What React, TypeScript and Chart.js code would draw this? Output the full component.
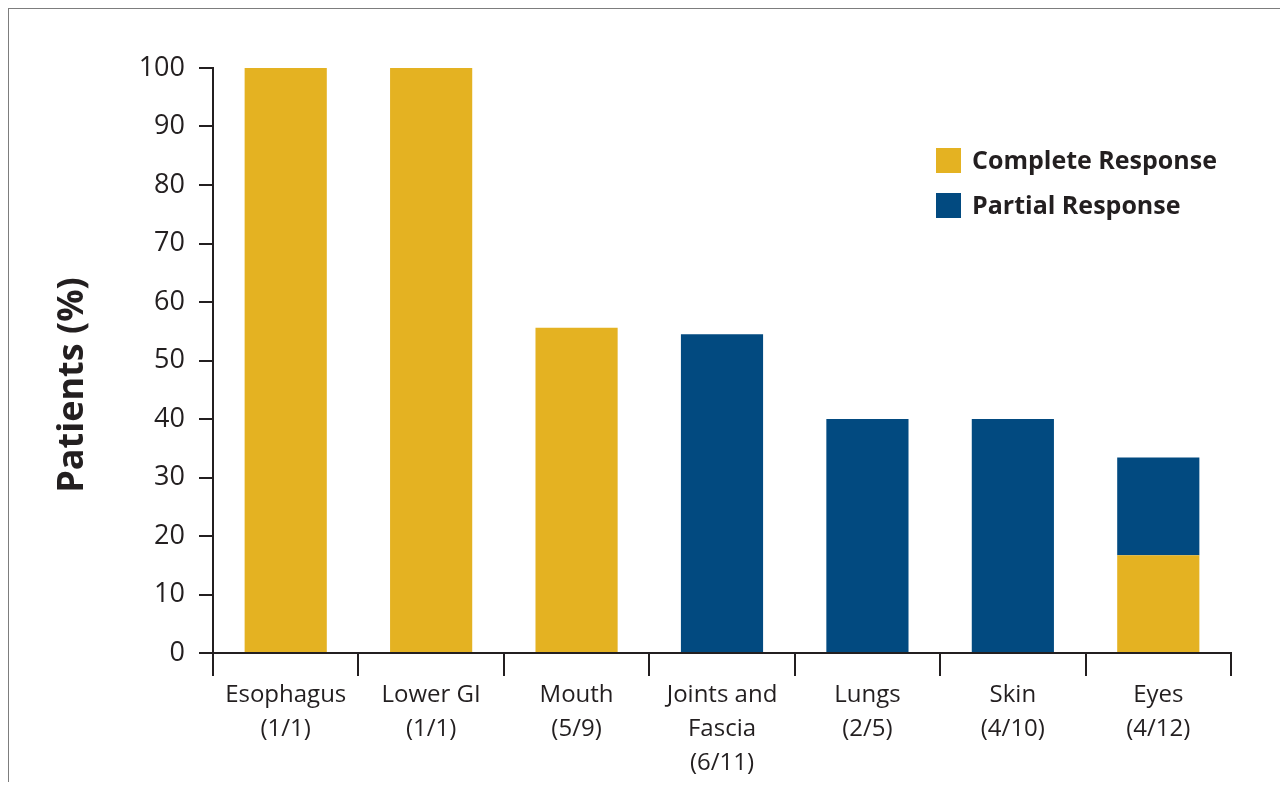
import React, { useEffect, useRef } from "react";
import { Chart, registerables } from "chart.js";

Chart.register(...registerables);

// Organ sites with responders / evaluable patients
const categories: string[][] = [
  ["Esophagus", "(1/1)"],
  ["Lower GI", "(1/1)"],
  ["Mouth", "(5/9)"],
  ["Joints and", "Fascia", "(6/11)"],
  ["Lungs", "(2/5)"],
  ["Skin", "(4/10)"],
  ["Eyes", "(4/12)"],
];

// Percent of patients by response type
const completeResponse: (number | null)[] = [100, 100, 55.6, null, null, null, 16.7];
const partialResponse: (number | null)[] = [null, null, null, 54.5, 40, 40, 16.7];

const yTicks = { min: 0, max: 100, step: 10 };
const yTitle = "Patients (%)";

const GOLD = "#E4B222";
const NAVY = "#024A80";
const INK = "#231F20";

const FONT = "'Open Sans', 'Noto Sans', sans-serif";

// Vertical axis title, centred beside the plot
const yTitlePlugin = {
  id: "yTitle",
  afterDraw(chart: any) {
    const ctx = chart.ctx;
    ctx.save();
    ctx.translate(64, 376);
    ctx.rotate(-Math.PI / 2);
    ctx.font = `bold 36px ${FONT}`;
    ctx.fillStyle = INK;
    ctx.textAlign = "center";
    ctx.textBaseline = "middle";
    ctx.fillText(yTitle, 0, 0);
    ctx.restore();
  },
};

// Legend stacked in the upper right of the plot
const legendPlugin = {
  id: "boxLegend",
  afterDraw(chart: any) {
    const ctx = chart.ctx;
    const x = 927;
    const ys = [139, 184];
    const size = 25;
    ctx.save();
    ctx.font = `bold 25px ${FONT}`;
    ctx.textBaseline = "middle";
    ctx.textAlign = "left";
    chart.data.datasets.forEach((ds: any, i: number) => {
      ctx.fillStyle = ds.backgroundColor;
      ctx.fillRect(x, ys[i], size, size);
      ctx.fillStyle = INK;
      ctx.fillText(ds.label, x + 36, ys[i] + size / 2 + 1);
    });
    ctx.restore();
  },
};

export default function App() {
  const ref = useRef<HTMLCanvasElement | null>(null);

  useEffect(() => {
    if (!ref.current) return;
    const chart = new Chart(ref.current, {
      type: "bar",
      data: {
        labels: categories,
        datasets: [
          {
            label: "Complete Response",
            data: completeResponse,
            backgroundColor: GOLD,
            categoryPercentage: 1,
            barPercentage: 0.565,
          },
          {
            label: "Partial Response",
            data: partialResponse,
            backgroundColor: NAVY,
            categoryPercentage: 1,
            barPercentage: 0.565,
          },
        ],
      },
      options: {
        responsive: false,
        animation: false,
        layout: { padding: { top: 59, right: 49, left: 0, bottom: 0 } },
        plugins: {
          legend: { display: false },
          tooltip: { enabled: false },
        },
        scales: {
          x: {
            stacked: true,
            grid: {
              offset: true,
              drawOnChartArea: false,
              drawTicks: true,
              tickLength: 23,
              color: INK,
              lineWidth: 2,
            },
            border: { display: true, color: INK, width: 2 },
            ticks: {
              autoSkip: false,
              maxRotation: 0,
              padding: 2,
              color: INK,
              font: { family: FONT, size: 24, lineHeight: 1.42 },
            },
            afterFit(scale: any) {
              scale.height = 137;
            },
          },
          y: {
            stacked: true,
            min: yTicks.min,
            max: yTicks.max,
            grid: {
              drawOnChartArea: false,
              drawTicks: true,
              tickLength: 14,
              color: INK,
              lineWidth: 2,
            },
            border: { display: true, color: INK, width: 2 },
            ticks: {
              stepSize: yTicks.step,
              padding: 14,
              color: INK,
              font: { family: FONT, size: 27 },
            },
            afterFit(scale: any) {
              scale.width = 204;
            },
          },
        },
      },
      plugins: [yTitlePlugin, legendPlugin],
    });
    return () => chart.destroy();
  }, []);

  return (
    <div
      style={{
        width: 1272,
        height: 782,
        marginBottom: -8,
        boxSizing: "border-box",
        borderTop: "1px solid #7d7d7d",
        borderLeft: "1px solid #7d7d7d",
        overflow: "hidden",
        background: "#fff",
      }}
    >
      <canvas ref={ref} width={1271} height={781} style={{ display: "block" }} />
    </div>
  );
}
